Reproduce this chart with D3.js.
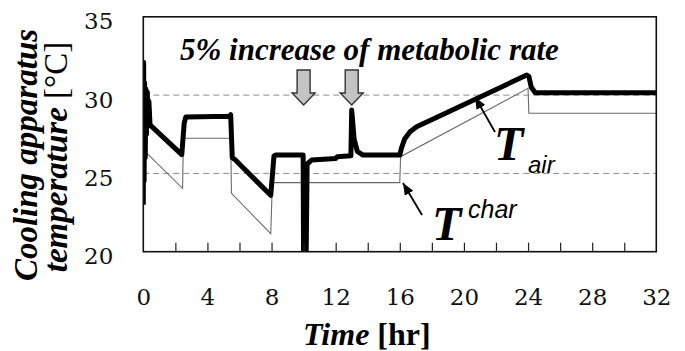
<!DOCTYPE html>
<html>
<head>
<meta charset="utf-8">
<script src="https://cdn.jsdelivr.net/npm/d3@7"></script>
<style>
  body { margin: 0; background: #fff; }
  svg { display: block; }
  .serif { font-family: "Liberation Serif", "Times New Roman", Times, serif; }
  .tick-label { font-family: "DejaVu Serif", "Liberation Serif", serif; font-size: 23px; }
  .sans { font-family: "Liberation Sans", Arial, Helvetica, sans-serif; }
</style>
</head>
<body>
<script>
// Cooling apparatus temperature vs time

// thick curve: T_air
var airTime = [0, 0.02, 0.05, 0.08, 0.12, 0.16, 0.2, 0.25, 0.3, 0.35, 0.42,
    2.4, 2.55, 2.65, 5.35, 5.45, 5.55, 5.7, 7.95, 8.15, 8.25, 9.97, 10.0, 10.15, 10.22,
    10.5, 12.0, 12.1, 12.95, 13.0, 13.15, 13.35, 13.7, 16.0, 16.1, 16.3, 16.64, 17.05,
    23.92, 24.05, 24.2, 24.45, 32];
var airTemp = [23.0, 32.1, 24.5, 30.8, 26.0, 30.4, 27.5, 30.2, 28.2, 29.6, 28.1,
    26.2, 28.2, 28.6, 28.65, 28.75, 26.0, 25.9, 23.6, 26.1, 26.17, 26.17, 19.0, 19.0, 25.6,
    25.85, 25.95, 26.07, 26.12, 29.05, 27.2, 26.4, 26.17, 26.17, 26.6, 27.2, 27.66, 27.98,
    31.28, 31.2, 30.5, 30.15, 30.15];

// thin curve: T_char
var charTime = [0.1, 2.45, 2.5, 5.45, 5.5, 7.95, 8.05, 16.0, 16.05, 24.0, 24.05, 32];
var charTemp = [26.4, 24.05, 27.24, 27.24, 23.73, 21.15, 24.41, 24.41, 26.07, 30.43, 28.84, 28.84];

var xTicks = [0, 4, 8, 12, 16, 20, 24, 28, 32];
var xMinorTicks = d3.range(2, 32, 2);
var yTicks = [20, 25, 30, 35];
var gridValues = [25, 30];
var arrowTimes = [10, 13];

drawChart();

function drawChart() {
    var width = 685, height = 351;
    var plotLeft = 143.3, plotRight = 656.3, plotTop = 16.8, plotBottom = 251.7;

    var svg = d3.select("body").append("svg")
        .attr("width", width)
        .attr("height", height);

    var x = d3.scaleLinear().domain([0, 32]).range([plotLeft, plotRight]);
    var y = d3.scaleLinear().domain([20, 35]).range([plotBottom, plotTop]);

    var defs = svg.append("defs");
    defs.append("clipPath").attr("id", "plotClip")
        .append("rect")
        .attr("x", plotLeft).attr("y", plotTop)
        .attr("width", plotRight - plotLeft).attr("height", plotBottom - plotTop);

    // dashed gridlines
    svg.selectAll(".grid")
        .data(gridValues)
        .enter().append("line")
        .attr("class", "grid")
        .attr("x1", plotLeft).attr("x2", plotRight)
        .attr("y1", function(d) { return y(d); })
        .attr("y2", function(d) { return y(d); })
        .attr("stroke", "#8a8a8a")
        .attr("stroke-width", 1)
        .attr("stroke-dasharray", "6,4");

    var line = d3.line()
        .x(function(d) { return x(d[0]); })
        .y(function(d) { return y(d[1]); });

    var charData = charTime.map(function(t, i) { return [t, charTemp[i]]; });
    var airData = airTime.map(function(t, i) { return [t, airTemp[i]]; });

    svg.append("path")
        .datum(charData)
        .attr("clip-path", "url(#plotClip)")
        .attr("fill", "none")
        .attr("stroke", "#6a6a6a")
        .attr("stroke-width", 1.1)
        .attr("d", line);

    svg.append("path")
        .datum(airData)
        .attr("clip-path", "url(#plotClip)")
        .attr("fill", "none")
        .attr("stroke", "#000")
        .attr("stroke-width", 5)
        .attr("stroke-linejoin", "round")
        .attr("d", line);

    // frame
    svg.append("rect")
        .attr("x", plotLeft).attr("y", plotTop)
        .attr("width", plotRight - plotLeft).attr("height", plotBottom - plotTop)
        .attr("fill", "none")
        .attr("stroke", "#111")
        .attr("stroke-width", 1.6);

    // minor ticks pointing up from bottom edge
    svg.append("g")
        .attr("transform", "translate(0," + plotBottom + ")")
        .call(d3.axisTop(x).tickValues(xMinorTicks).tickSize(9).tickFormat(""))
        .call(function(g) { g.select(".domain").remove(); })
        .selectAll("line").attr("stroke", "#222").attr("stroke-width", 1.2);

    // x tick labels
    var xAxis = svg.append("g")
        .attr("transform", "translate(0," + plotBottom + ")")
        .call(d3.axisBottom(x).tickValues(xTicks).tickSize(0).tickFormat(d3.format("d")));
    xAxis.select(".domain").remove();
    xAxis.attr("font-family", null).attr("font-size", null);
    xAxis.selectAll("text")
        .attr("class", "tick-label")
        .attr("y", 53).attr("dy", 0)
        .attr("fill", "#111");

    // y tick labels
    var yAxis = svg.append("g")
        .attr("transform", "translate(" + plotLeft + ",0)")
        .call(d3.axisLeft(y).tickValues(yTicks).tickSize(0).tickFormat(d3.format("d")));
    yAxis.select(".domain").remove();
    yAxis.attr("font-family", null).attr("font-size", null);
    yAxis.selectAll("text")
        .attr("class", "tick-label")
        .attr("x", -30).attr("dy", "0.52em")
        .attr("fill", "#111");

    // y title (two lines)
    var yTitle = svg.append("g")
        .attr("class", "serif")
        .attr("transform", "rotate(-90)")
        .attr("font-weight", "bold")
        .attr("font-style", "italic")
        .attr("font-size", 33)
        .attr("text-anchor", "middle");
    yTitle.append("text")
        .attr("x", -155).attr("y", 37)
        .text("Cooling apparatus");
    var yt2 = yTitle.append("text")
        .attr("x", -157).attr("y", 67);
    yt2.append("tspan").text("temperature ");
    yt2.append("tspan").attr("font-style", "normal").attr("font-weight", "normal").text("[°C]");

    // x title
    var xTitle = svg.append("text")
        .attr("class", "serif")
        .attr("x", 303).attr("y", 345)
        .attr("font-weight", "bold")
        .attr("font-size", 32);
    xTitle.append("tspan").attr("font-style", "italic").text("Time");
    xTitle.append("tspan").text(" [hr]");

    // annotation
    svg.append("text")
        .attr("class", "serif")
        .attr("x", 180).attr("y", 60)
        .attr("font-weight", "bold")
        .attr("font-style", "italic")
        .attr("font-size", 31)
        .text("5% increase of metabolic rate");

    // gray block arrows
    svg.selectAll(".blockArrow")
        .data(arrowTimes)
        .enter().append("path")
        .attr("class", "blockArrow")
        .attr("d", function(d) {
            var cx = x(d);
            return "M" + (cx - 6.5) + ",70 L" + (cx + 6.5) + ",70 L" + (cx + 6.5) + ",93 L" +
                (cx + 11.5) + ",93 L" + cx + ",105 L" + (cx - 11.5) + ",93 L" + (cx - 6.5) + ",93 Z";
        })
        .attr("fill", "#c4c4c4")
        .attr("stroke", "#333")
        .attr("stroke-width", 1.4);

    // pointer arrows for labels
    defs.append("marker")
        .attr("id", "head")
        .attr("viewBox", "0 0 12 10")
        .attr("refX", 12).attr("refY", 5)
        .attr("markerWidth", 12).attr("markerHeight", 10)
        .attr("markerUnits", "userSpaceOnUse")
        .attr("orient", "auto")
        .append("path")
        .attr("d", "M0,0 L12,5 L0,10 Z")
        .attr("fill", "#000");

    svg.append("line")
        .attr("x1", 495).attr("y1", 132).attr("x2", 475).attr("y2", 97)
        .attr("stroke", "#000").attr("stroke-width", 1.8)
        .attr("marker-end", "url(#head)");

    svg.append("line")
        .attr("x1", 422).attr("y1", 215).attr("x2", 403).attr("y2", 183)
        .attr("stroke", "#000").attr("stroke-width", 1.8)
        .attr("marker-end", "url(#head)");

    // T_air label
    svg.append("text")
        .attr("class", "serif")
        .attr("x", 494).attr("y", 160)
        .attr("font-weight", "bold")
        .attr("font-style", "italic")
        .attr("font-size", 48)
        .text("T");
    svg.append("text")
        .attr("class", "sans")
        .attr("x", 528).attr("y", 173)
        .attr("font-style", "italic")
        .attr("font-size", 24)
        .text("air");

    // T_char label
    svg.append("text")
        .attr("class", "serif")
        .attr("x", 432).attr("y", 240)
        .attr("font-weight", "bold")
        .attr("font-style", "italic")
        .attr("font-size", 48)
        .text("T");
    svg.append("text")
        .attr("class", "sans")
        .attr("x", 468).attr("y", 218)
        .attr("font-style", "italic")
        .attr("font-size", 25)
        .text("char");
}
</script>
</body>
</html>
